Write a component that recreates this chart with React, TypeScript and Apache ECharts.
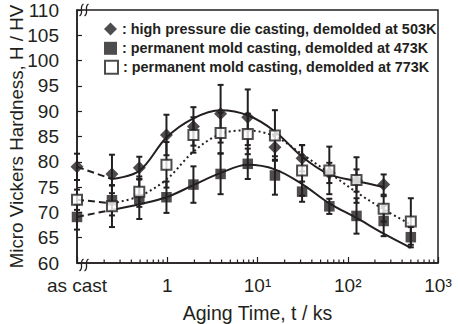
import React, { useEffect, useRef } from "react";
import * as echarts from "echarts";

// Aging times (ks); the first entry is the "as cast" state, drawn at the axis start
const times = [0.1, 0.244, 0.49, 0.98, 1.95, 3.9, 7.8, 15.6, 31.2, 62.5, 125, 250, 500];

const seriesNames = [
  "high pressure die casting, demolded at 503K",
  "permanent mold casting, demolded at 473K",
  "permanent mold casting, demolded at 773K",
];

// Measured hardness (HV) and error half-widths
const hpdcHV = [79.0, 77.6, 78.8, 85.3, 87.0, 89.5, 88.8, 82.9, 80.7, 77.8, 76.3, 75.5];
const hpdcErr = [2.6, 3.8, 2.2, 4.0, 3.8, 5.7, 5.5, 2.5, 2.6, 2.0, 2.2, 2.0];
const pm473HV = [69.1, 72.4, 72.6, 73.0, 75.5, 77.6, 79.6, 77.3, 74.1, 71.2, 69.3, 68.3, 65.1];
const pm473Err = [2.5, 3.0, 3.9, 3.1, 3.6, 4.0, 3.0, 3.8, 2.0, 1.5, 3.5, 3.0, 2.0];
const pm773HV = [72.5, 71.2, 74.1, 79.4, 85.3, 85.7, 85.5, 85.2, 78.3, 78.3, 76.4, 70.7, 68.2];
const pm773Err = [2.0, 4.1, 3.0, 4.5, 3.5, 4.0, 4.0, 5.0, 5.0, 4.7, 4.5, 2.5, 4.6];

// Fitted trend curves (from the first aged point onward)
const fitTimes = [0.244, 0.49, 0.98, 1.95, 3.9, 7.8, 15.6, 31.2, 62.5, 125, 250, 500];
const hpdcFit = [76.6, 78.2, 84.8, 88.6, 90.2, 89.2, 86.0, 81.0, 77.5, 76.2, 75.0];
const pm473Fit = [70.5, 71.6, 73.0, 75.4, 77.8, 79.4, 78.5, 75.6, 71.8, 68.9, 65.8, 63.0];
const pm773Fit = [71.8, 73.2, 76.5, 82.0, 85.5, 86.2, 85.0, 81.5, 77.8, 74.0, 70.6, 67.6];

const minorTickValues = [
  0.2, 0.3, 0.4, 0.5, 0.6, 0.7, 0.8, 0.9,
  2, 3, 4, 5, 6, 7, 8, 9,
  20, 30, 40, 50, 60, 70, 80, 90,
  200, 300, 400, 500, 600, 700, 800, 900,
];

const INK = "#231f20";
const FONT = "'Liberation Sans', Arial, sans-serif";

function pts(xs: number[], ys: number[]) {
  return ys.map((y, i) => [xs[i], y]);
}
function errData(ys: number[], es: number[]) {
  return ys.map((y, i) => [times[i], y - es[i], y + es[i]]);
}

const errRender = (params: any, api: any) => {
  const x = api.value(0);
  const lo = api.coord([x, api.value(1)]);
  const hi = api.coord([x, api.value(2)]);
  const cw = 3;
  const style = { stroke: INK, lineWidth: 2 };
  return {
    type: "group",
    children: [
      { type: "line", shape: { x1: lo[0], y1: lo[1], x2: hi[0], y2: hi[1] }, style },
      { type: "line", shape: { x1: lo[0] - cw, y1: lo[1], x2: lo[0] + cw, y2: lo[1] }, style },
      { type: "line", shape: { x1: hi[0] - cw, y1: hi[1], x2: hi[0] + cw, y2: hi[1] }, style },
    ],
  };
};

const minorRender = (params: any, api: any) => {
  const p = api.coord([api.value(0), api.value(1)]);
  return {
    type: "line",
    shape: { x1: p[0], y1: p[1], x2: p[0], y2: p[1] - 3.5 },
    style: { stroke: INK, lineWidth: 1.2 },
  };
};

function breakMark(cx: number, cy: number) {
  const mk = (x0: number) => ({
    type: "bezierCurve",
    shape: {
      x1: x0 + 2, y1: cy - 6,
      x2: x0 - 2, y2: cy + 6,
      cpx1: x0 - 3, cpy1: cy - 3,
      cpx2: x0 + 3, cpy2: cy + 3,
    },
    style: { stroke: INK, lineWidth: 1.3, fill: null },
    z: 100,
  });
  return [mk(cx - 2.5), mk(cx + 2.5)];
}

const legendRowTops = [21, 40.3, 59.3];

export default function App() {
  const ref = useRef<HTMLDivElement>(null);
  useEffect(() => {
    if (!ref.current) return;
    const chart = echarts.init(ref.current, undefined, { renderer: "svg" });
    const lineBase = { type: "line", showSymbol: false, symbol: "none", silent: true, clip: false, z: 2 };
    const legendBase = {
      orient: "vertical",
      left: 104,
      padding: 0,
      itemGap: 0,
      itemWidth: 13,
      itemHeight: 13,
      selectedMode: false,
      formatter: (n: string) => ": " + n,
      textStyle: { fontFamily: FONT, fontSize: 14.4, fontWeight: "bold", color: INK, lineHeight: 16 },
    };
    const option: any = {
      animation: false,
      textStyle: { fontFamily: FONT, color: INK },
      grid: {
        left: 77, right: 20, top: 10, bottom: 61,
        outerBoundsMode: "none",
        containLabel: false,
        show: true, borderColor: INK, borderWidth: 1.5, backgroundColor: "transparent",
      },
      legend: seriesNames.map((n, i) => ({ ...legendBase, top: legendRowTops[i], data: [n] })),
      xAxis: {
        type: "log",
        logBase: 10,
        min: 0.1,
        max: 1000,
        axisLine: { lineStyle: { color: INK, width: 1.5 } },
        axisTick: { inside: true, length: 6, lineStyle: { color: INK, width: 1.2 } },
        splitLine: { show: false },
        axisLabel: {
          color: INK,
          fontSize: 19,
          fontFamily: FONT,
          margin: 13,
          showMinLabel: true,
          showMaxLabel: true,
          formatter: (v: number) => {
            const e = Math.round(Math.log10(v));
            if (e === -1) return "as cast";
            if (e === 0) return "1";
            const sup = ["", "¹", "²", "³"][e] || "";
            return "10" + sup;
          },
        },
        name: "Aging Time, t / ks",
        nameLocation: "middle",
        nameGap: 40,
        nameMoveOverlap: false,
        nameTextStyle: { color: INK, fontSize: 19.5, fontFamily: FONT },
      },
      yAxis: {
        type: "value",
        min: 60,
        max: 110,
        interval: 5,
        axisLine: { show: true, lineStyle: { color: INK, width: 1.5 } },
        axisTick: { show: true, inside: true, length: 5, lineStyle: { color: INK, width: 1.2 } },
        splitLine: { show: false },
        axisLabel: { color: INK, fontSize: 19, fontFamily: FONT, margin: 18 },
        name: "Micro Vickers Hardness, H / HV",
        nameLocation: "middle",
        nameGap: 51,
        nameMoveOverlap: false,
        nameRotate: 90,
        nameTextStyle: { color: INK, fontSize: 18.8, fontFamily: FONT },
      },
      graphic: [...breakMark(84, 10), ...breakMark(84, 265)],
      series: [
        { type: "custom", renderItem: minorRender, data: minorTickValues.map((v) => [v, 60]), silent: true, z: 1, clip: false },
        // dashed connectors from as-cast state
        { ...lineBase, data: [[times[0], hpdcHV[0]], [fitTimes[0], hpdcFit[0]]], lineStyle: { color: INK, width: 2, type: [7, 4] } },
        { ...lineBase, data: [[times[0], pm473HV[0]], [fitTimes[0], pm473Fit[0]]], lineStyle: { color: INK, width: 2, type: [7, 4] } },
        { ...lineBase, data: [[times[0], pm773HV[0]], [fitTimes[0], pm773Fit[0]]], lineStyle: { color: INK, width: 2, type: [7, 4] } },
        // fitted curves
        { ...lineBase, smooth: 0.35, data: pts(fitTimes, hpdcFit), lineStyle: { color: INK, width: 2 } },
        { ...lineBase, smooth: 0.35, data: pts(fitTimes, pm473Fit), lineStyle: { color: INK, width: 2 } },
        { ...lineBase, smooth: 0.35, data: pts(fitTimes, pm773Fit), lineStyle: { color: INK, width: 2, type: [2, 3] } },
        // error bars
        { type: "custom", renderItem: errRender, data: errData(hpdcHV, hpdcErr), encode: { x: 0, y: [1, 2] }, silent: true, z: 3, clip: false },
        { type: "custom", renderItem: errRender, data: errData(pm473HV, pm473Err), encode: { x: 0, y: [1, 2] }, silent: true, z: 3, clip: false },
        { type: "custom", renderItem: errRender, data: errData(pm773HV, pm773Err), encode: { x: 0, y: [1, 2] }, silent: true, z: 3, clip: false },
        // markers
        {
          name: seriesNames[0], type: "scatter", symbol: "diamond", symbolSize: 13, clip: false, z: 5,
          itemStyle: { color: INK },
          data: pts(times, hpdcHV),
        },
        {
          name: seriesNames[1], type: "scatter", symbol: "rect", symbolSize: 10.5, clip: false, z: 5,
          itemStyle: { color: INK },
          data: pts(times, pm473HV),
        },
        {
          name: seriesNames[2], type: "scatter", symbol: "rect", symbolSize: 10, clip: false, z: 6,
          itemStyle: { color: "#ffffff", borderColor: INK, borderWidth: 2 },
          data: pts(times, pm773HV),
        },
      ],
    };
    chart.setOption(option);
    return () => chart.dispose();
  }, []);
  return <div ref={ref} style={{ width: 458, height: 324, position: "absolute", left: 0, top: 0 }} />;
}
